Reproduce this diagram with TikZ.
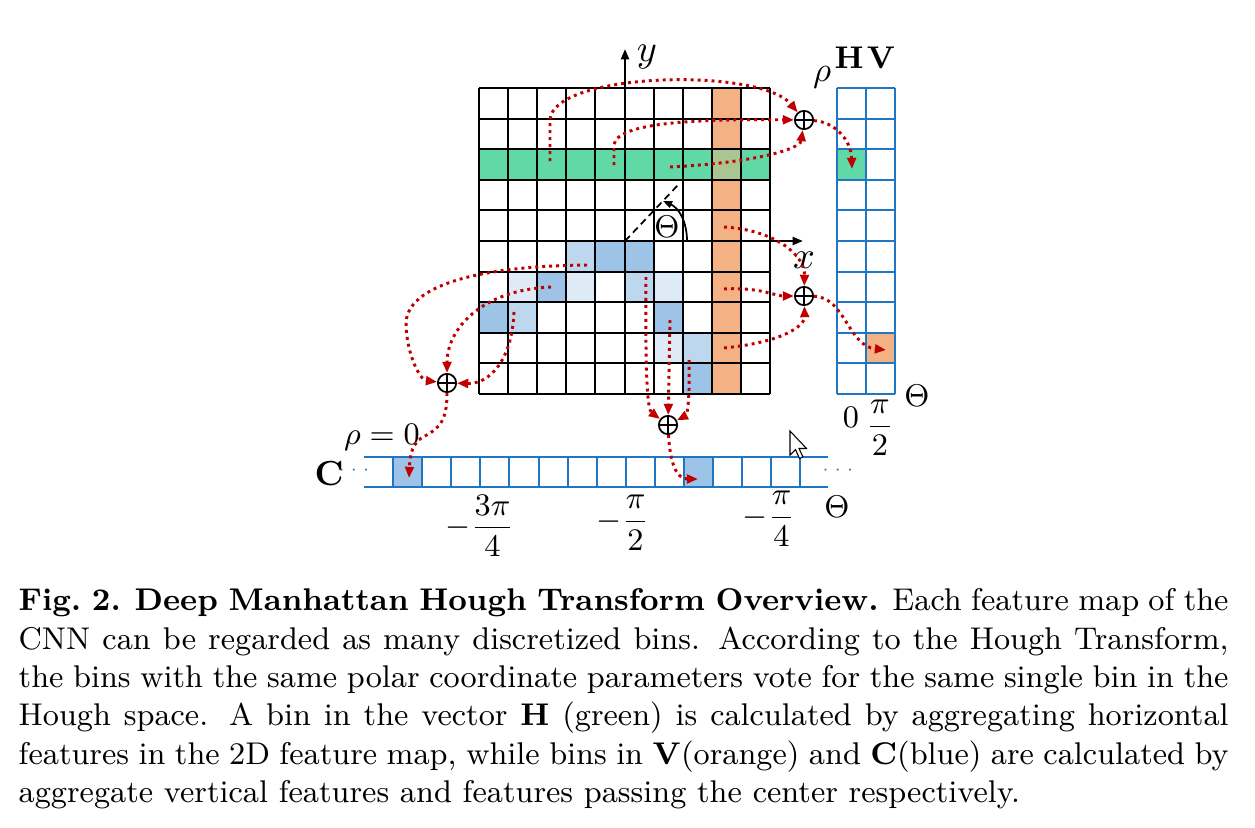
\documentclass[tikz,border=0pt]{standalone}
\usepackage{amsmath, amssymb, tikz, xcolor}
\usetikzlibrary{arrows.meta}
\definecolor{featgreen}{RGB}{96,217,166}
\definecolor{featorange}{RGB}{244,177,131}
\definecolor{featmix}{RGB}{170,196,146}
\definecolor{bluemid}{RGB}{157,195,230}
\definecolor{bluelight}{RGB}{189,215,238}
\definecolor{bluepale}{RGB}{222,235,247}
\definecolor{vecblue}{RGB}{31,119,196}
\definecolor{votered}{RGB}{192,0,0}

\begin{document}
\begin{tikzpicture}[x=0.2868pt, y=-0.2868pt,
  gridline/.style={line width=0.57pt, black},
  vecline/.style={line width=0.57pt, vecblue},
  axis/.style={line width=0.65pt, -{Triangle[length=3pt,width=2.3pt]}},
  vote/.style={votered, line width=0.85pt, dash pattern=on 0.85pt off 1.15pt, -{Triangle[length=3.2pt,width=2.5pt]}},
  sumnode/.style={circle, draw, line width=0.5pt, minimum size=5.25pt, inner sep=0pt,
    path picture={\draw[line width=0.45pt] (path picture bounding box.north) -- (path picture bounding box.south)
      (path picture bounding box.west) -- (path picture bounding box.east);}},
  lab/.style={inner sep=0pt, font=\fontsize{8.8}{10.5}\selectfont}]
\useasboundingbox (0,0) rectangle (1255,827);

% feature map cells
\foreach \i in {0,...,9} \fill[featgreen] (479+29.1*\i,149.2) rectangle ++(29.1,30.6);
\foreach \j in {0,...,9} \fill[featorange] (711.8,88+30.6*\j) rectangle ++(29.1,30.6);
\fill[featmix] (711.8,149.2) rectangle ++(29.1,30.6);
\foreach \i/\j/\c in {3/5/bluelight, 4/5/bluemid, 5/5/bluemid,
  1/6/bluepale, 2/6/bluemid, 3/6/bluepale, 5/6/bluelight, 6/6/bluepale,
  0/7/bluemid, 1/7/bluelight, 6/7/bluemid,
  6/8/bluepale, 7/8/bluelight, 7/9/bluemid}
  \fill[\c] (479+29.1*\i,88+30.6*\j) rectangle ++(29.1,30.6);
\foreach \i in {0,...,10} \draw[gridline] (479+29.1*\i,88) -- (479+29.1*\i,394);
\foreach \j in {0,...,10} \draw[gridline] (479,88+30.6*\j) -- (770,88+30.6*\j);

% H and V vectors
\fill[featgreen] (837,149.2) rectangle ++(29,30.6);
\fill[featorange] (866,332.8) rectangle ++(29,30.6);
\foreach \k in {0,1,2} \draw[vecline] (837+29*\k,88) -- (837+29*\k,394);
\foreach \j in {0,...,10} \draw[vecline] (837,88+30.6*\j) -- (895,88+30.6*\j);

% C vector
\fill[bluemid] (393,457) rectangle ++(29.1,30);
\fill[bluemid] (684,457) rectangle ++(29.1,30);
\foreach \k in {0,...,14} \draw[vecline] (393+29.1*\k,457) -- (393+29.1*\k,487);
\draw[vecline] (364,457) -- (828,457);
\draw[vecline] (364,487) -- (828,487);

% axes and angle
\coordinate (origin) at (625,241);
\coordinate (ytip) at (625,49);
\coordinate (xtip) at (803,241);
\coordinate (dirtip) at (678,185);
\coordinate (angstart) at (687,241);
\coordinate (angend) at (663,201);
\draw[axis] (origin) -- (ytip);
\draw[axis] (origin) -- (xtip);
\draw[dashed, line width=0.5pt, dash pattern=on 2pt off 1.3pt] (origin) -- (dirtip);
\draw[line width=0.5pt, -{Triangle[length=2.6pt,width=2pt]}] (angstart) .. controls (687,222) and (679,208) .. (angend);

% labels
\node[lab, font=\fontsize{10.5}{12}\selectfont] (ylab) at (647,57) {$y$};
\node[lab, font=\fontsize{10.5}{12}\selectfont] (xlab) at (804,260) {$x$};
\node[lab, font=\fontsize{10}{12}\selectfont] (rholab) at (822,77) {$\rho$};
\node[lab, font=\fontsize{8.8}{10.5}\selectfont] (Hlab) at (849,58) {$\mathbf{H}$};
\node[lab, font=\fontsize{8.8}{10.5}\selectfont] (Vlab) at (881,58) {$\mathbf{V}$};
\node[lab] (thetaang) at (667,227) {$\Theta$};
\node[lab] (zeroH) at (851,417) {$0$};
\node[lab] (halfpi) at (880,428) {$\dfrac{\pi}{2}$};
\node[lab] (thetaHV) at (917,396) {$\Theta$};
\node[lab, font=\fontsize{9.2}{11}\selectfont] (rhozero) at (382,437) {$\rho = 0$};
\node[lab, font=\fontsize{10}{12}\selectfont] (Clab) at (329,474) {$\mathbf{C}$};
\node[lab, font=\fontsize{5.5}{6.5}\selectfont, text=vecblue] (dotsL) at (356,470) {$\cdots$};
\node[lab, font=\fontsize{5.5}{6.5}\selectfont, text=vecblue] (dotsR) at (840,470) {$\cdots$};
\node[lab] (mthreequarter) at (480,526) {$-\dfrac{3\pi}{4}$};
\node[lab] (mhalf) at (623,523) {$-\dfrac{\pi}{2}$};
\node[lab] (mquarter) at (769,519) {$-\dfrac{\pi}{4}$};
\node[lab] (thetaC) at (837,507) {$\Theta$};

% aggregation nodes
\node[sumnode] (sumH) at (804,120) {};
\node[sumnode] (sumV) at (804,296) {};
\node[sumnode] (sumL) at (447,383) {};
\node[sumnode] (sumB) at (668,425) {};

% votes
\coordinate (g1) at (550,161);
\coordinate (g2) at (614,165);
\coordinate (g3) at (670,167);
\coordinate (o1) at (724,227);
\coordinate (o2) at (724,289);
\coordinate (o3) at (724,348);
\coordinate (b1) at (587,265);
\coordinate (b2) at (551,287);
\coordinate (b3) at (514,312);
\coordinate (b4) at (646,277);
\coordinate (b5) at (670,320);
\coordinate (b6) at (689,360);
\coordinate (hbin) at (852,169);
\coordinate (vbin) at (886,350);
\coordinate (cbin1) at (409,478);
\coordinate (cbin2) at (698,479);

\draw[vote] (g1) -- (550,120) .. controls (552,72) and (760,67) .. (sumH);
\draw[vote] (g2) -- (614,145) .. controls (616,122) and (700,119) .. (sumH);
\draw[vote] (g3) .. controls (750,163) and (800,150) .. (sumH);
\draw[vote] (sumH) .. controls (835,122) and (851,140) .. (hbin);

\draw[vote] (o1) .. controls (775,230) and (805,255) .. (sumV);
\draw[vote] (o2) .. controls (760,287) and (775,296) .. (sumV);
\draw[vote] (o3) .. controls (785,342) and (805,325) .. (sumV);
\draw[vote] (sumV) .. controls (845,297) and (848,346) .. (vbin);

\draw[vote] (b1) .. controls (480,266) and (405,285) .. (406,325) .. controls (407,355) and (420,380) .. (sumL);
\draw[vote] (b2) .. controls (480,290) and (447,330) .. (sumL);
\draw[vote] (b3) .. controls (512,360) and (490,384) .. (sumL);
\draw[vote] (sumL) .. controls (447,420) and (440,428) .. (425,436) .. controls (412,442) and (410,455) .. (cbin1);

\draw[vote] (b4) .. controls (645,385) and (648,410) .. (sumB);
\draw[vote] (b5) -- (sumB);
\draw[vote] (b6) .. controls (690,400) and (687,415) .. (sumB);
\draw[vote] (sumB) .. controls (670,462) and (676,479) .. (cbin2);

% mouse pointer
\draw[fill=white, line width=0.3pt] (790,431) -- ++(0,24) -- ++(5.5,-5.5) -- ++(4,9) -- ++(3.5,-1.5)
  -- ++(-4,-8.5) -- ++(7.5,0) -- cycle;

% caption
\node[anchor=north west, inner sep=0pt, text width=347pt, align=justify,
  font=\fontsize{9}{11}\selectfont] (caption) at (18,588)
  {\textbf{Fig.~2.} \textbf{Deep Manhattan Hough Transform Overview.} Each feature map of the
  CNN can be regarded as many discretized bins. According to the Hough Transform,
  the bins with the same polar coordinate parameters vote for the same single bin in the
  Hough space. A bin in the vector $\mathbf{H}$ (green) is calculated by aggregating horizontal
  features in the 2D feature map, while bins in $\mathbf{V}$(orange) and $\mathbf{C}$(blue) are calculated by
  aggregate vertical features and features passing the center respectively.};
\end{tikzpicture}
\end{document}
